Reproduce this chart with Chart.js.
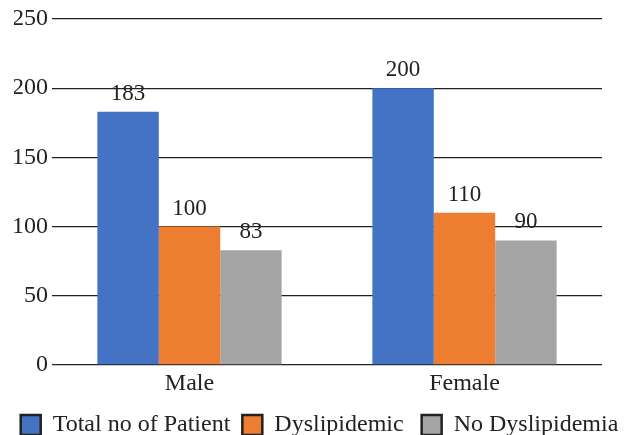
<!DOCTYPE html>
<html lang="en">
<head>
<meta charset="UTF-8">
<title>Dyslipidemia by Gender</title>
<script src="https://cdn.jsdelivr.net/npm/chart.js"></script>
<style>
    body { margin: 0; background: #fff; }
    .wrap { width: 625px; height: 435px; }
</style>
</head>
<body>
<div class="wrap"><canvas id="chart" width="625" height="435"></canvas></div>
<script>
    const categories = ["Male", "Female"];
    const seriesNames = ["Total no of Patient", "Dyslipidemic", "No Dyslipidemia"];
    const totalPatients = [183, 200];
    const dyslipidemic = [100, 110];
    const noDyslipidemia = [83, 90];
    const colors = ["#4472C4", "#ED7D31", "#A5A5A5"];

    const FONT = "'Liberation Serif', 'Times New Roman', serif";

    // write the value above each bar
    const valueLabels = {
        id: "valueLabels",
        afterDatasetsDraw(chart) {
            const ctx = chart.ctx;
            ctx.save();
            ctx.font = "23px " + FONT;
            ctx.fillStyle = "#222";
            ctx.textAlign = "center";
            ctx.textBaseline = "alphabetic";
            chart.data.datasets.forEach((ds, i) => {
                chart.getDatasetMeta(i).data.forEach((bar, j) => {
                    ctx.fillText(ds.data[j], bar.x, bar.y - 12);
                });
            });
            ctx.restore();
        }
    };

    const allSeries = [totalPatients, dyslipidemic, noDyslipidemia];
    const legendSpaces = [" ", "  ", ""];

    new Chart(document.getElementById("chart"), {
        type: "bar",
        data: {
            labels: categories,
            datasets: allSeries.map((values, i) => ({
                label: seriesNames[i],
                data: values,
                backgroundColor: colors[i],
                borderWidth: 0
            }))
        },
        options: {
            responsive: false,
            animation: false,
            layout: { padding: { left: 14, right: 0, top: 19, bottom: -12 } },
            datasets: { bar: { categoryPercentage: 0.67, barPercentage: 1 } },
            scales: {
                x: {
                    afterFit(scale) { scale.height = 42; },
                    grid: { display: false, drawTicks: false },
                    border: { display: false },
                    ticks: { color: "#222", font: { family: FONT, size: 24 }, padding: 4 }
                },
                y: {
                    min: 0,
                    max: 250,
                    afterFit(scale) { scale.width = 38; },
                    grid: { color: "#222", lineWidth: 1.3, drawTicks: false },
                    border: { display: false },
                    ticks: { stepSize: 50, color: "#222", font: { family: FONT, size: 24 }, padding: 4 }
                },
                // empty axis that only keeps the right margin
                yRight: {
                    position: "right",
                    afterFit(scale) { scale.width = 23; },
                    grid: { display: false },
                    border: { display: false },
                    ticks: { display: false }
                }
            },
            plugins: {
                tooltip: { enabled: false },
                legend: {
                    position: "bottom",
                    labels: {
                        color: "#222",
                        font: { family: FONT, size: 24 },
                        boxWidth: 20,
                        boxHeight: 20,
                        padding: 6,
                        generateLabels(chart) {
                            // trailing spaces widen the gap between legend items
                            return chart.data.datasets.map((ds, i) => ({
                                text: ds.label + legendSpaces[i],
                                fillStyle: colors[i],
                                strokeStyle: "#222",
                                lineWidth: 2.5,
                                fontColor: "#222",
                                datasetIndex: i
                            }));
                        }
                    }
                }
            }
        },
        plugins: [valueLabels]
    });
</script>
</body>
</html>
